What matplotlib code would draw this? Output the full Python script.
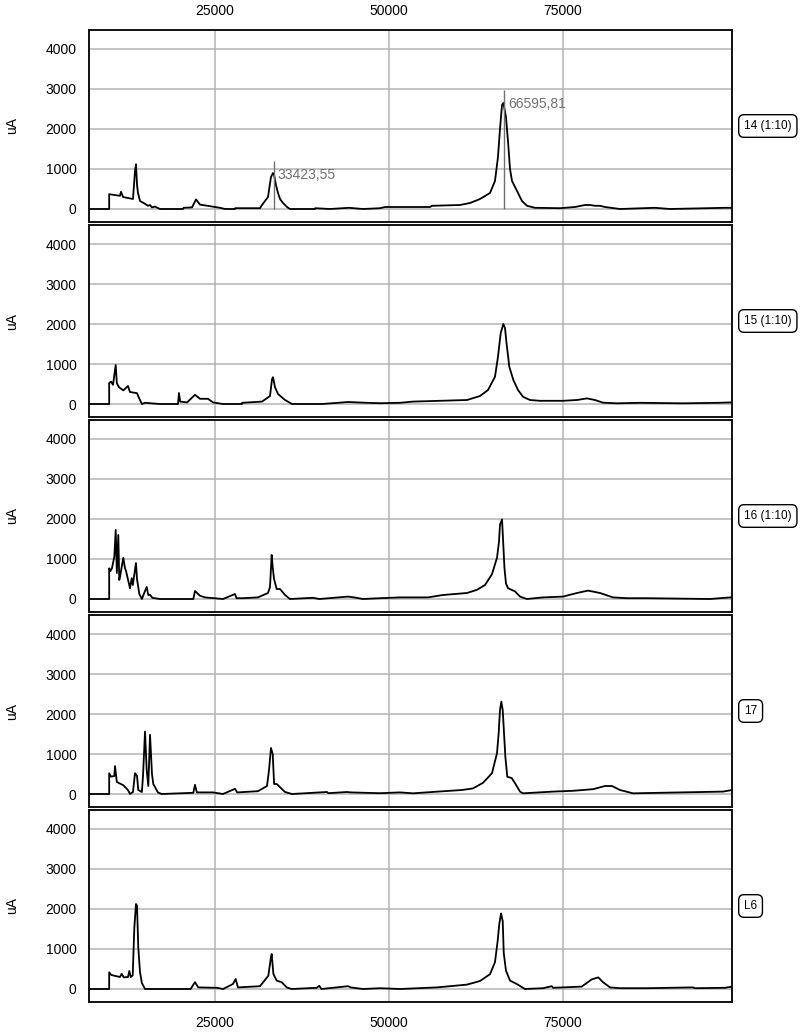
import matplotlib
matplotlib.use("Agg")
import matplotlib.pyplot as plt
import numpy as np

plt.rcParams['font.family'] = ['Liberation Sans', 'DejaVu Sans']

# panel names (right-hand boxes)
names = ['14 (1:10)', '15 (1:10)', '16 (1:10)', '17', 'L6']

# traces: (mass, uA)
x14 = [6900, 9800, 9800, 11350, 11500, 11790, 13220, 13510, 13650, 13800, 13940, 14230, 14950, 15380,
       15670, 15950, 16380, 17100, 20410, 20500, 21700, 22280, 22850, 24290, 25720, 26440, 27880, 27900,
       31470, 31760, 32620, 33050, 33340, 33500, 33770, 34060, 34350, 34780, 35350, 35780, 39380, 39400,
       41530, 44260, 46270, 48720, 49440, 55900, 56190, 60210, 61650, 63090, 64520, 65240, 65670, 65960,
       66250, 66450, 66820, 67110, 67400, 67690, 68120, 68550, 69120, 69840, 70990, 74580, 76740, 78180,
       78890, 79610, 80330, 81050, 83200, 88230, 90390, 98300, 99310]
y14 = [0, 0, 370, 330, 430, 300, 250, 950, 1120, 600, 400, 200, 130, 80,
       100, 40, 60, 0, 0, 30, 40, 240, 110, 70, 30, 0, 0, 20,
       20, 100, 300, 800, 900, 850, 600, 400, 250, 150, 50, 0, 0, 20,
       0, 30, 0, 20, 50, 50, 80, 100, 150, 250, 400, 700, 1300, 2000,
       2600, 2650, 2300, 1700, 1000, 700, 550, 400, 200, 80, 30, 20, 50, 100,
       100, 80, 80, 50, 0, 30, 0, 30, 30]

x15 = [6900, 9800, 9800, 10060, 10350, 10740, 10900, 11210, 11830, 12500, 12790, 13800, 14090, 14500,
       14950, 17100, 19690, 19830, 20000, 21000, 22130, 22850, 24000, 24720, 26160, 28890, 28900, 31760,
       32910, 33200, 33340, 33630, 34060, 35070, 36070, 40380, 42680, 44120, 46850, 48720, 51590, 53460,
       57340, 61220, 63090, 64240, 65240, 65670, 66060, 66440, 66680, 66900, 67300, 67880, 68550, 69270,
       70270, 71710, 75010, 77030, 78460, 79610, 80760, 82770, 86080, 92260, 97290, 99310]
y15 = [0, 0, 525, 560, 480, 975, 520, 420, 340, 450, 300, 270, 150, 0,
       30, 0, 0, 275, 60, 40, 230, 130, 130, 40, 0, 0, 30, 60,
       200, 620, 670, 420, 250, 100, 0, 0, 30, 50, 30, 20, 30, 60,
       80, 100, 200, 350, 680, 1180, 1770, 2000, 1900, 1520, 930, 600, 350, 180,
       100, 80, 80, 100, 140, 100, 33, 17, 30, 17, 30, 40]

x16 = [6900, 9800, 9800, 10000, 10200, 10540, 10740, 10900, 11110, 11250, 11400, 11830, 12070, 12220,
       12790, 13040, 13200, 13650, 13800, 14130, 14500, 14950, 15190, 15420, 15700, 16000, 17100, 21890,
       22130, 22850, 23570, 26160, 27880, 28100, 29000, 31180, 32620, 32910, 33150, 33300, 33490, 33870,
       34350, 35070, 35780, 39090, 40000, 44120, 45000, 46270, 48720, 51590, 55610, 57770, 61220, 62660,
       63810, 64810, 65530, 65820, 65960, 66250, 66390, 66600, 66820, 67110, 68120, 68840, 69840, 72140,
       75010, 77030, 78610, 80330, 82200, 84210, 87080, 96140, 99020, 99310]
y16 = [0, 0, 767, 700, 770, 1060, 1725, 650, 1600, 475, 600, 1030, 770, 700,
       270, 520, 350, 900, 500, 125, 0, 200, 300, 100, 100, 30, 0, 0,
       200, 80, 40, 0, 125, 20, 20, 40, 150, 300, 1100, 800, 500, 250,
       250, 100, 0, 30, 0, 60, 40, 0, 20, 40, 40, 100, 150, 230,
       350, 620, 1030, 1440, 1860, 1990, 1520, 780, 390, 270, 190, 60, 0, 40,
       60, 150, 210, 150, 40, 20, 20, 0, 40, 40]

x17 = [6900, 9800, 9800, 10060, 10540, 10640, 10900, 11830, 12500, 12790, 13220, 13510, 13800, 13980,
       14500, 14660, 14950, 15190, 15420, 15670, 15950, 16140, 16800, 17350, 21890, 22130, 22400, 24720,
       26160, 27880, 28200, 31180, 32480, 32770, 33050, 33300, 33500, 33870, 34350, 35070, 36070, 41100,
       41300, 43970, 44500, 48720, 51590, 53460, 57050, 60500, 62080, 63520, 64810, 65530, 65770, 65960,
       66150, 66350, 66540, 66730, 67010, 67640, 68120, 68840, 69270, 73580, 76450, 79320, 81050, 82060,
       83200, 85070, 98010, 99310]
y17 = [0, 0, 517, 433, 450, 700, 300, 220, 100, 0, 50, 520, 450, 100,
       50, 450, 1560, 600, 200, 1480, 500, 250, 40, 0, 30, 230, 40, 40,
       0, 130, 40, 70, 200, 600, 1150, 1000, 250, 250, 170, 50, 0, 50,
       20, 50, 40, 20, 40, 17, 60, 100, 140, 280, 520, 1020, 1520, 2100,
       2310, 2100, 1520, 930, 430, 400, 270, 60, 17, 60, 80, 120, 200, 200,
       100, 17, 60, 100]

xL6 = [6900, 9800, 9800, 10100, 11350, 11600, 11900, 12500, 12690, 12900, 13180, 13410, 13650, 13800,
       13980, 14230, 14500, 14950, 21500, 22130, 22600, 25290, 26160, 27590, 27980, 28300, 31470, 32670,
       33010, 33150, 33400, 33870, 34590, 35310, 36000, 39620, 39990, 40300, 44120, 44500, 46270, 48720,
       51590, 56910, 58780, 61220, 63090, 64520, 65240, 65630, 65860, 66110, 66350, 66500, 66820, 67400,
       68370, 69550, 72140, 73390, 73600, 77700, 79140, 80090, 80760, 81770, 83200, 87040, 93700, 94000,
       98300, 99310]
yL6 = [0, 0, 417, 350, 300, 380, 290, 300, 450, 300, 340, 1517, 2125, 2083,
       1042, 417, 150, 0, 0, 170, 40, 30, 0, 125, 250, 40, 70, 330,
       750, 875, 375, 210, 170, 40, 0, 30, 80, 0, 70, 40, 0, 20,
       0, 40, 70, 110, 200, 370, 670, 1210, 1625, 1890, 1700, 900, 460, 210,
       125, 0, 20, 70, 30, 60, 240, 290, 170, 40, 20, 20, 40, 20,
       30, 60]

traces = [(x14, y14), (x15, y15), (x16, y16), (x17, y17), (xL6, yL6)]

# peak labels on the first panel: position, marker top
peak_pos = [33423.55, 66595.81]
peak_top = [1200, 2975]
peak_txt = ['33423,55', '66595,81']

xticks = [25000, 50000, 75000]
yticks = [0, 1000, 2000, 3000, 4000]

W, H = 800, 1035
fig = plt.figure(figsize=(W / 100, H / 100), dpi=100)

left, width = 89, 643
tops = [30, 225, 420, 615, 810]
ph = 192

for i, (xs, ys) in enumerate(traces):
    ax = fig.add_axes([left / W, 1 - (tops[i] + ph) / H, width / W, ph / H])
    ax.set_xlim(6900, 99300)
    ax.set_ylim(-325, 4475)
    ax.set_xticks(xticks)
    ax.set_yticks(yticks)
    ax.grid(True, color='#b4b4b4', lw=1.1)
    ax.set_axisbelow(True)
    ax.plot(xs, ys, color='black', lw=1.3, zorder=3)
    for s in ax.spines.values():
        s.set_linewidth(1.4)
        s.set_color('#111111')
    ax.tick_params(axis='both', length=0, labelsize=10)
    ax.tick_params(axis='y', pad=9)
    ax.tick_params(axis='x', labelbottom=(i == 4), labeltop=(i == 0),
                   pad=(8.5 if i == 0 else 10))
    ax.set_ylabel('uA', fontsize=10, va='center')
    ax.yaxis.set_label_coords(-0.12, 0.5)
    ax.text(1 + 12 / width, 0.5, names[i], transform=ax.transAxes, ha='left', va='center',
            fontsize=8.5, bbox=dict(boxstyle='round,pad=0.45', fc='white', ec='black', lw=1.0),
            clip_on=False)
    if i == 0:
        for px, pt, t in zip(peak_pos, peak_top, peak_txt):
            ax.vlines(px, 0, pt, color='#707070', lw=1.0, zorder=4)
            ax.annotate(t, xy=(px, pt), xytext=(3, -5), textcoords='offset points',
                        ha='left', va='top', fontsize=10, color='#707070')

fig.savefig('out.png', dpi=100)
